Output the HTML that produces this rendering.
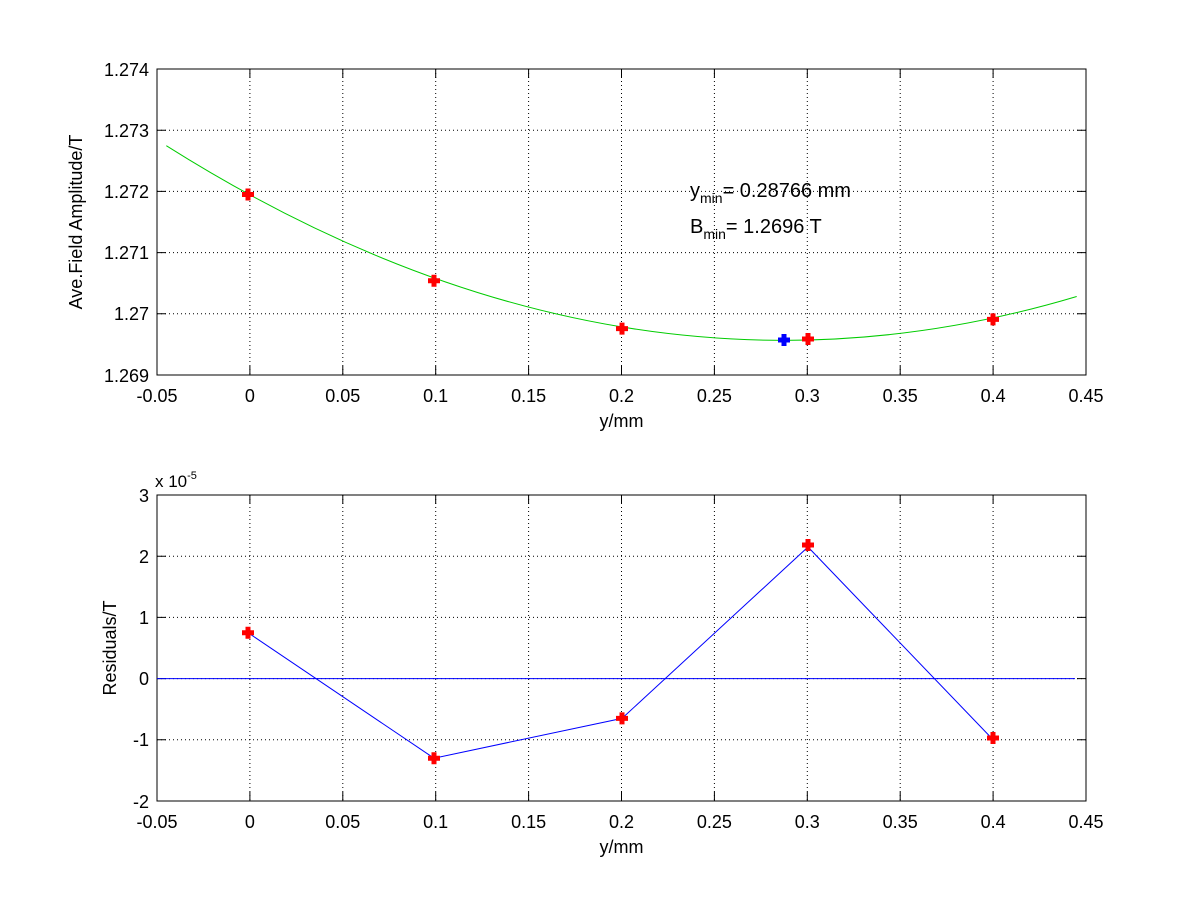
<!DOCTYPE html><html><head><style>body{margin:0;background:#fff}svg text{font-family:"Liberation Sans",sans-serif;fill:#000}</style></head><body>
<svg width="1200" height="900" xmlns="http://www.w3.org/2000/svg">
<defs>
<g id="pr"><path d="M-6,0H6M0,-6V6" stroke="#f00" stroke-width="5"/></g>
<g id="pb"><path d="M-6,0H6M0,-6V6" stroke="#00f" stroke-width="5"/></g>
</defs>
<g stroke="#000" stroke-width="1" stroke-dasharray="1,3" fill="none">
<path d="M249.9,69V375M342.8,69V375M435.7,69V375M528.6,69V375M621.5,69V375M714.4,69V375M807.3,69V375M900.2,69V375M993.1,69V375"/>
<path d="M157,130.2H1086M157,191.4H1086M157,252.6H1086M157,313.8H1086"/>
<path d="M249.9,495V801M342.8,495V801M435.7,495V801M528.6,495V801M621.5,495V801M714.4,495V801M807.3,495V801M900.2,495V801M993.1,495V801"/>
<path d="M157,556.2H1086M157,617.4H1086M157,678.6H1086M157,739.8H1086"/>
</g>
<g stroke="#000" stroke-width="1" fill="none">
<rect x="157" y="69" width="929" height="306"/>
<rect x="157" y="495" width="929" height="306"/>
<path d="M249.9,375v-9M342.8,375v-9M435.7,375v-9M528.6,375v-9M621.5,375v-9M714.4,375v-9M807.3,375v-9M900.2,375v-9M993.1,375v-9M249.9,69v9M342.8,69v9M435.7,69v9M528.6,69v9M621.5,69v9M714.4,69v9M807.3,69v9M900.2,69v9M993.1,69v9"/>
<path d="M157,130.2h9M157,191.4h9M157,252.6h9M157,313.8h9M1086,130.2h-9M1086,191.4h-9M1086,252.6h-9M1086,313.8h-9"/>
<path d="M249.9,801v-9M342.8,801v-9M435.7,801v-9M528.6,801v-9M621.5,801v-9M714.4,801v-9M807.3,801v-9M900.2,801v-9M993.1,801v-9M249.9,495v9M342.8,495v9M435.7,495v9M528.6,495v9M621.5,495v9M714.4,495v9M807.3,495v9M900.2,495v9M993.1,495v9"/>
<path d="M157,556.2h9M157,617.4h9M157,678.6h9M157,739.8h9M1086,556.2h-9M1086,617.4h-9M1086,678.6h-9M1086,739.8h-9"/>
</g>
<path d="M166.3,145.7Q621.5,432.7 1076.7,296.5" stroke="#0c0" stroke-width="1" fill="none"/>
<use href="#pr" x="248" y="194.5"/><use href="#pr" x="434" y="280.8"/><use href="#pr" x="622" y="328.6"/><use href="#pr" x="808" y="339"/><use href="#pr" x="993" y="319.4"/>
<use href="#pb" x="784" y="340"/>
<path d="M157,678.6H1075" stroke="#00f" stroke-width="1"/>
<polyline points="248,632.7 434,758.2 622,718.4 808,547 993,739.6" stroke="#00f" stroke-width="1" fill="none"/>
<use href="#pr" x="248" y="632.7"/><use href="#pr" x="434" y="758.2"/><use href="#pr" x="622" y="718.4"/><use href="#pr" x="808" y="545"/><use href="#pr" x="993" y="738"/>
<g font-size="18" text-anchor="middle">
<text x="157" y="402">-0.05</text><text x="249.9" y="402">0</text><text x="342.8" y="402">0.05</text><text x="435.7" y="402">0.1</text><text x="528.6" y="402">0.15</text><text x="621.5" y="402">0.2</text><text x="714.4" y="402">0.25</text><text x="807.3" y="402">0.3</text><text x="900.2" y="402">0.35</text><text x="993.1" y="402">0.4</text><text x="1086" y="402">0.45</text>
<text x="157" y="828">-0.05</text><text x="249.9" y="828">0</text><text x="342.8" y="828">0.05</text><text x="435.7" y="828">0.1</text><text x="528.6" y="828">0.15</text><text x="621.5" y="828">0.2</text><text x="714.4" y="828">0.25</text><text x="807.3" y="828">0.3</text><text x="900.2" y="828">0.35</text><text x="993.1" y="828">0.4</text><text x="1086" y="828">0.45</text>
<text x="621.5" y="427">y/mm</text><text x="621.5" y="853">y/mm</text>
</g>
<g font-size="18" text-anchor="end">
<text x="149" y="76">1.274</text><text x="149" y="137">1.273</text><text x="149" y="198">1.272</text><text x="149" y="259">1.271</text><text x="149" y="320">1.27</text><text x="149" y="382">1.269</text>
<text x="149" y="502">3</text><text x="149" y="563">2</text><text x="149" y="624">1</text><text x="149" y="685">0</text><text x="149" y="746">-1</text><text x="149" y="808">-2</text>
</g>
<text x="155" y="487" font-size="17">x 10<tspan font-size="11" dy="-8">-5</tspan></text>
<text transform="translate(82,222) rotate(-90)" font-size="18" text-anchor="middle">Ave.Field Amplitude/T</text>
<text transform="translate(116,648) rotate(-90)" font-size="18" text-anchor="middle">Residuals/T</text>
<text x="690" y="197" font-size="20">y<tspan font-size="14" dy="6">min</tspan><tspan dy="-6">= 0.28766 mm</tspan></text>
<text x="690" y="233" font-size="20">B<tspan font-size="14" dy="6">min</tspan><tspan dy="-6">= 1.2696 T</tspan></text>
</svg></body></html>
